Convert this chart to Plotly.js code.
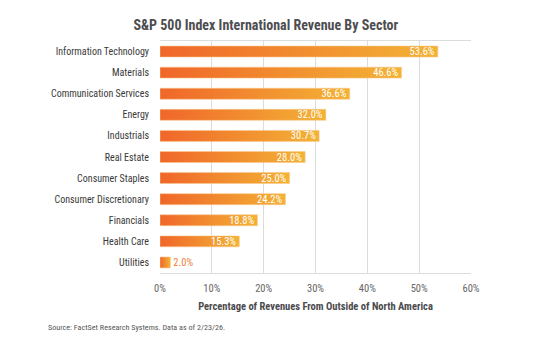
<!DOCTYPE html>
<html>
<head>
<meta charset="utf-8">
<script src="https://cdn.plot.ly/plotly-3.0.1.min.js"></script>
<style>html,body{margin:0;padding:0;background:#fff;}#chart{width:556px;height:358px;}</style>
</head>
<body>
<div id="chart"></div>
<script>
var sectors = ["Information Technology","Materials","Communication Services","Energy","Industrials","Real Estate","Consumer Staples","Consumer Discretionary","Financials","Health Care","Utilities"];
var values = [53.6, 46.6, 36.6, 32.0, 30.7, 28.0, 25.0, 24.2, 18.8, 15.3, 2.0];
var xTickVals = [0, 10, 20, 30, 40, 50, 60];
var xTickText = ["0%","10%","20%","30%","40%","50%","60%"];

var FONT = '"Roboto Condensed", "Arial Narrow", "Liberation Sans Narrow", "DejaVu Sans Condensed", sans-serif';

var textPos = values.map(function(v){ return v < 5 ? 'outside' : 'inside'; });

var trace = {
  type: 'bar',
  orientation: 'h',
  y: sectors,
  x: values,
  marker: {color: '#f28c30', line: {color: 'rgba(250,200,140,0.7)', width: 0.8}},
  texttemplate: '%{x:.1f}%',
  textposition: textPos,
  insidetextanchor: 'end',
  constraintext: 'none',
  cliponaxis: false,
  insidetextfont: {family: FONT, size: 10.5, color: '#ffffff'},
  outsidetextfont: {family: FONT, size: 10.5, color: '#f0803c'},
  hoverinfo: 'none'
};

var layout = {
  width: 556, height: 358,
  margin: {l: 159.5, r: 85, t: 41, b: 85, pad: 0},
  paper_bgcolor: '#ffffff', plot_bgcolor: '#ffffff',
  showlegend: false,
  bargap: 0.48,
  font: {family: FONT, color: '#3a3a3a'},
  title: {
    text: '<b>S&P 500 Index International Revenue By Sector</b>',
    font: {family: FONT, size: 14, color: '#4d4d50'},
    xref: 'container', x: 0.478, xanchor: 'center',
    yref: 'container', y: 0.93, yanchor: 'middle'
  },
  xaxis: {
    range: [0, 60],
    tickvals: xTickVals, ticktext: xTickText,
    showgrid: true, gridcolor: '#dcdcdc', gridwidth: 1,
    zeroline: false,
    showline: true, linecolor: '#dcdcdc', linewidth: 1, mirror: true,
    ticks: '',
    ticklabelstandoff: 5,
    tickfont: {family: FONT, size: 10.5, color: '#666666'},
    title: {text: '<b>Percentage of Revenues From Outside of North America</b>', font: {family: FONT, size: 10.5, color: '#4a4a4d'}, standoff: 9},
    fixedrange: true
  },
  yaxis: {
    autorange: 'reversed',
    showgrid: false, zeroline: false,
    showline: false,
    ticks: '',
    ticklabelstandoff: 10,
    tickfont: {family: FONT, size: 10, color: '#3a3a3a'},
    fixedrange: true
  },
  annotations: [{
    text: 'Source: FactSet Research Systems. Data as of 2/23/26.',
    xref: 'paper', yref: 'paper',
    x: -0.3676, y: -0.2328, xanchor: 'left', yanchor: 'middle',
    showarrow: false,
    font: {family: FONT, size: 8.1, color: '#555555'}
  }]
};

Plotly.newPlot('chart', [trace], layout, {displayModeBar: false, staticPlot: true}).then(function(gd){
  var svg = gd.querySelector('svg.main-svg');
  var defs = svg.querySelector('defs');
  var ns = 'http://www.w3.org/2000/svg';
  var grad = document.createElementNS(ns, 'linearGradient');
  grad.setAttribute('id', 'barGrad');
  grad.setAttribute('x1', '0'); grad.setAttribute('y1', '0');
  grad.setAttribute('x2', '1'); grad.setAttribute('y2', '0');
  var s1 = document.createElementNS(ns, 'stop');
  s1.setAttribute('offset', '0'); s1.setAttribute('stop-color', '#f0662a');
  var s2 = document.createElementNS(ns, 'stop');
  s2.setAttribute('offset', '1'); s2.setAttribute('stop-color', '#f3b335');
  grad.appendChild(s1); grad.appendChild(s2);
  defs.appendChild(grad);
  gd.querySelectorAll('.bars .point path').forEach(function(p){
    p.style.fill = 'url(#barGrad)';
    p.style.fillOpacity = 1;
  });
});
</script>
</body>
</html>
